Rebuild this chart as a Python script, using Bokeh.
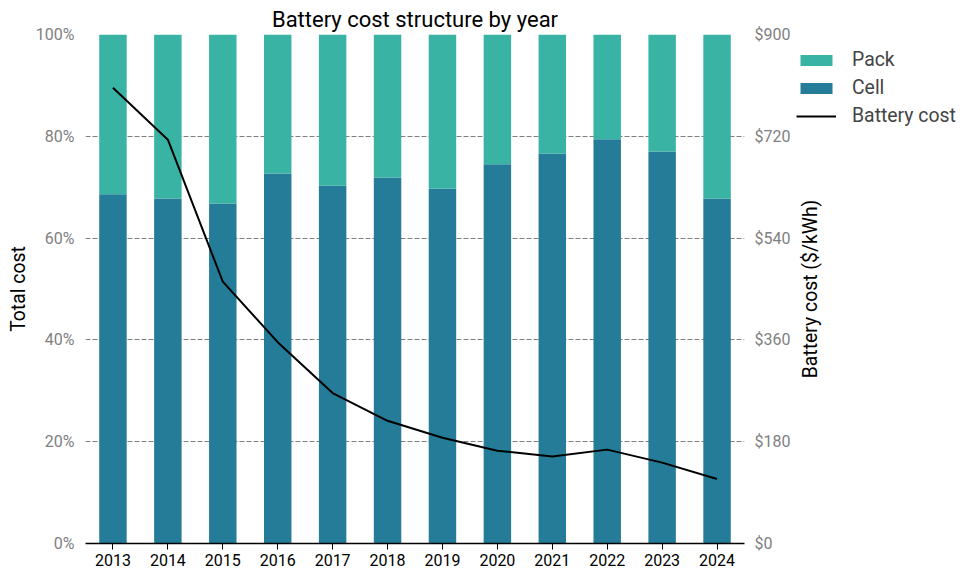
import math
from bokeh.plotting import figure
from bokeh.layouts import row
from bokeh.models import (FactorRange, Range1d, LinearAxis, FixedTicker, Grid,
                          PrintfTickFormatter, Legend, LegendItem, ColumnDataSource)
from bokeh.core.properties import value
from bokeh.embed import file_html
from bokeh.resources import INLINE

years = ["2013", "2014", "2015", "2016", "2017", "2018",
         "2019", "2020", "2021", "2022", "2023", "2024"]
cell_share = [68.6, 67.8, 66.8, 72.7, 70.3, 71.9, 69.7, 74.5, 76.6, 79.4, 77.0, 67.8]
pack_share = [round(100 - c, 1) for c in cell_share]
battery_cost = [806, 714, 463, 356, 266, 217, 187, 164, 154, 166, 143, 114]
pct_ticks = [0, 20, 40, 60, 80, 100]
cost_ticks = [0, 180, 360, 540, 720, 900]
series_labels = ["Pack", "Cell", "Battery cost"]

CELL = "#257c98"
PACK = "#39b3a4"
GRAY = "#808080"
FONT = "Roboto"

H = 576
SPLIT = 793          # x where the legend strip begins
WA = SPLIT
WB = 970 - SPLIT
FR_TOP, FR_BOT = 34, 543   # plot frame top / bottom (px)
FR_H = FR_BOT - FR_TOP

src = ColumnDataSource(dict(year=years, cell=cell_share, pack=pack_share, cost=battery_cost))

p = figure(x_range=FactorRange(factors=years, range_padding=0),
           y_range=Range1d(0, 100),
           width=WA, height=H, output_backend="svg", toolbar_location=None,
           min_border_left=85, min_border_right=SPLIT - 746,
           min_border_top=FR_TOP, min_border_bottom=H - FR_BOT,
           y_axis_location=None)
p.outline_line_color = None
p.extra_y_ranges = {"cost": Range1d(0, 900)}

p.title.text = "Battery cost structure by year"
p.title.align = "center"
p.title.text_font = FONT
p.title.text_font_size = "22px"
p.title.text_font_style = "normal"
p.title.text_color = "black"
p.title.standoff = 6

bars = p.vbar_stack(["cell", "pack"], x="year", width=0.5, source=src,
                    color=[CELL, PACK], line_color=None)
ln = p.line(x="year", y="cost", source=src, y_range_name="cost",
            line_color="black", line_width=2)

yl = LinearAxis(ticker=FixedTicker(ticks=pct_ticks),
                formatter=PrintfTickFormatter(format="%d%%"),
                axis_label="Total cost")
yr = LinearAxis(y_range_name="cost", ticker=FixedTicker(ticks=cost_ticks),
                formatter=PrintfTickFormatter(format="$%d"))
for ax in (yl, yr):
    ax.axis_line_color = None
    ax.major_tick_line_color = None
    ax.minor_tick_line_color = None
    ax.major_tick_in = 0
    ax.major_tick_out = 0
    ax.minor_tick_in = 0
    ax.minor_tick_out = 0
    ax.major_label_text_color = GRAY
    ax.major_label_text_font = FONT
    ax.major_label_text_font_size = "16px"
    ax.axis_label_text_font = FONT
    ax.axis_label_text_font_size = "19.4px"
    ax.axis_label_text_font_style = "normal"
    ax.axis_label_text_color = "black"
yl.major_label_standoff = 11
yl.axis_label_standoff = 3
yr.major_label_standoff = 10
p.add_layout(yl, "left")
p.add_layout(yr, "right")

xa = p.xaxis[0]
xa.axis_line_color = "black"
xa.axis_line_width = 1.5
xa.major_tick_line_color = "black"
xa.major_tick_line_width = 1
xa.major_tick_in = 0
xa.major_tick_out = 6
xa.major_label_standoff = 4
xa.major_label_text_font = FONT
xa.major_label_text_font_size = "16px"
xa.major_label_text_color = "black"

p.xgrid.grid_line_color = None
p.ygrid.grid_line_color = None
g = Grid(dimension=1, ticker=FixedTicker(ticks=pct_ticks[1:]),
         grid_line_color=GRAY, grid_line_dash="5 2", grid_line_width=1)
p.add_layout(g)

# strip on the right: legend and right-axis title (frame aligned with p)
q = figure(x_range=Range1d(0, WB), y_range=Range1d(0, FR_H),
           width=WB, height=H, output_backend="svg", toolbar_location=None,
           min_border_left=0, min_border_right=0,
           min_border_top=FR_TOP, min_border_bottom=H - FR_BOT,
           x_axis_location=None, y_axis_location=None)
q.outline_line_color = None
q.xgrid.grid_line_color = None
q.ygrid.grid_line_color = None

# legend proxies (zero-size, not visible)
lp = q.vbar(x=[0], top=[0], bottom=[0], width=0, color=PACK, line_color=None)
lc = q.vbar(x=[0], top=[0], bottom=[0], width=0, color=CELL, line_color=None)
ll = q.line(x=[0], y=[0], line_color="black", line_width=2)

q.text(x=[810 - SPLIT], y=[FR_BOT - 288.5], text=["Battery cost ($/kWh)"],
       angle=math.pi / 2, text_align="center", text_baseline="middle",
       text_font=value(FONT), text_font_size="19.4px", text_color="black")

LEG_H = 3 * 23 + 2 * 5
legend = Legend(items=[LegendItem(label=series_labels[0], renderers=[lp]),
                       LegendItem(label=series_labels[1], renderers=[lc]),
                       LegendItem(label=series_labels[2], renderers=[ll])],
                location=(796 - SPLIT, FR_BOT - 48 - LEG_H), orientation="vertical",
                background_fill_alpha=0, border_line_color=None,
                padding=0, margin=0, spacing=5,
                glyph_width=40, glyph_height=14, label_standoff=16,
                label_text_font=FONT, label_text_font_size="19.4px",
                label_height=20)
q.add_layout(legend, "center")

layout = row(p, q, spacing=0)
open("out.html", "w").write(file_html(layout, INLINE))
